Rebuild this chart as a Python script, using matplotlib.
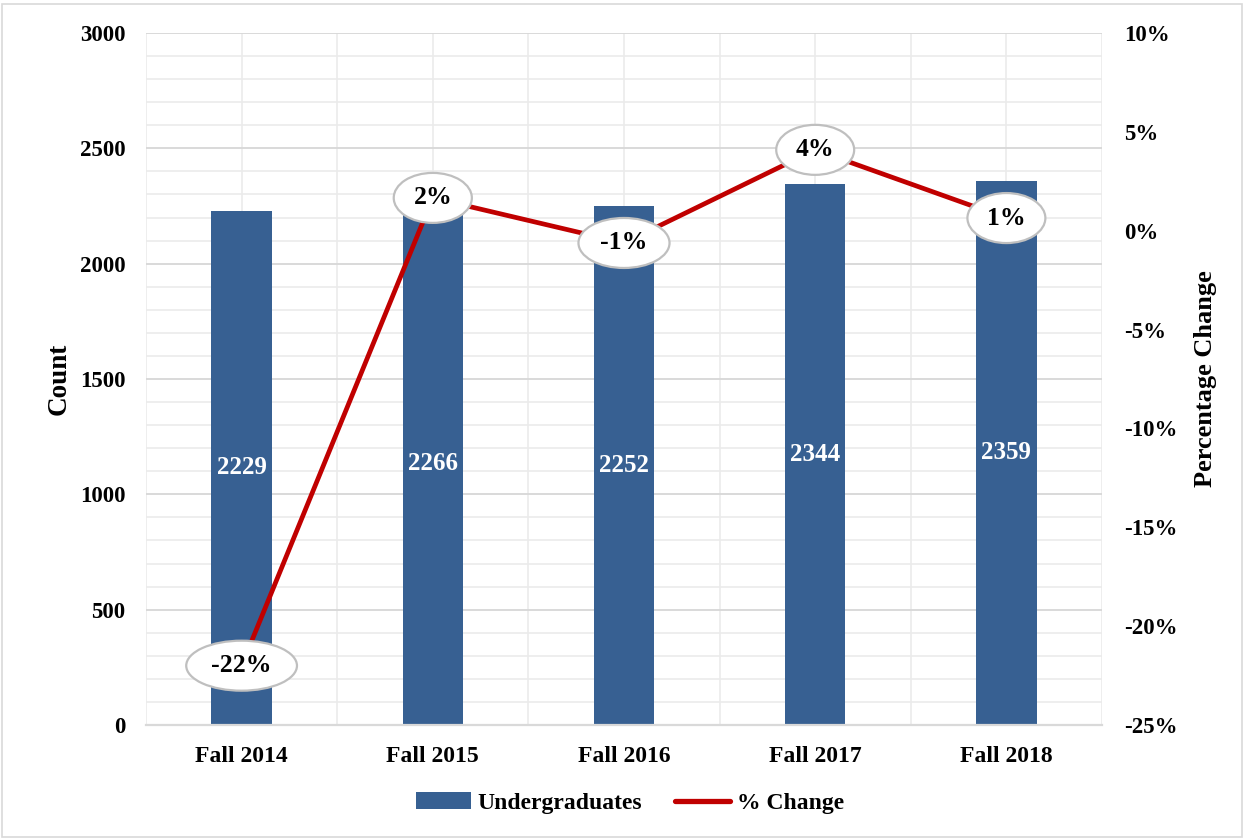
import matplotlib
matplotlib.use("Agg")
import matplotlib.pyplot as plt
from matplotlib.lines import Line2D
from matplotlib.patches import Patch, Rectangle, Ellipse
import numpy as np

categories = ["Fall 2014", "Fall 2015", "Fall 2016", "Fall 2017", "Fall 2018"]
undergrads = [2229, 2266, 2252, 2344, 2359]
pct_change = [-22.0, 1.66, -0.62, 4.09, 0.64]
pct_labels = ["-22%", "2%", "-1%", "4%", "1%"]

plt.rcParams['font.family'] = ['Liberation Serif', 'DejaVu Serif']
plt.rcParams['font.weight'] = 'bold'

W, H = 1244, 839
fig = plt.figure(figsize=(W / 100, H / 100), dpi=100)
ax_l, ax_r, ax_t, ax_b = 146, 1102, 33, 725
ax = fig.add_axes([ax_l / W, 1 - ax_b / H, (ax_r - ax_l) / W, (ax_b - ax_t) / H])
x = np.arange(len(categories))

bar_color = '#376092'
line_color = '#C00000'

ax.set_xlim(-0.5, len(categories) - 0.5)
ax.set_ylim(0, 3000)
ax.set_yticks(np.arange(0, 3001, 500))
ax.set_yticks(np.arange(0, 3001, 100), minor=True)
ax.set_xticks(x)
ax.set_xticks(np.arange(-0.5, len(categories), 1.0), minor=True)
ax.grid(True, which='minor', axis='y', color='#ebebeb', lw=1.2, zorder=0)
ax.grid(True, which='major', axis='y', color='#d9d9d9', lw=1.4, zorder=0)
ax.grid(True, which='both', axis='x', color='#ebebeb', lw=1.2, zorder=0)
ax.set_axisbelow(True)

ax.bar(x, undergrads, width=0.315, color=bar_color, zorder=2)
for xi, v in zip(x, undergrads):
    ax.text(xi, v / 2, str(v), ha='center', va='center', color='white',
            fontsize=18, fontweight='bold', zorder=3)

ax.set_xticklabels(categories, fontsize=17, fontweight='bold')
ax.tick_params(axis='both', which='both', length=0)
ax.tick_params(axis='x', pad=15)
ax.tick_params(axis='y', pad=15)
for lab in ax.get_yticklabels():
    lab.set_fontsize(16.5)
    lab.set_fontweight('bold')
for s in ['top', 'right', 'left']:
    ax.spines[s].set_visible(False)
ax.spines['bottom'].set_color('#d9d9d9')
ax.spines['bottom'].set_linewidth(1.6)
ax.set_ylabel("Count", fontsize=19.5, fontweight='bold', labelpad=6)

ax2 = ax.twinx()
ax2.set_ylim(-25, 10)
ax2.set_yticks(np.arange(-25, 11, 5))
ax2.set_yticklabels([f"{t}%" for t in range(-25, 11, 5)], fontsize=16.5, fontweight='bold')
ax2.tick_params(axis='y', length=0, pad=16)
for s in ['top', 'right', 'left', 'bottom']:
    ax2.spines[s].set_visible(False)
ax2.plot(x, pct_change, color=line_color, lw=3.4, zorder=4, solid_capstyle='round')

fig.canvas.draw()
renderer = fig.canvas.get_renderer()
px_per_x = (ax_r - ax_l) / (len(categories))
px_per_y = (ax_b - ax_t) / 35.0
for xi, v, lab in zip(x, pct_change, pct_labels):
    t = ax2.text(xi, v, lab, ha='center', va='center', fontsize=18.5, fontweight='bold',
                 zorder=6)
    tw = t.get_window_extent(renderer).width
    ew = 1.5 * tw + 20
    eh = 50
    ax2.add_patch(Ellipse((xi, v), ew / px_per_x, eh / px_per_y, fc='white',
                          ec='#bfbfbf', lw=1.6, zorder=5))
ax2.set_ylabel("Percentage Change", fontsize=19, fontweight='bold', labelpad=12)

handles = [Patch(facecolor=bar_color, edgecolor='none'),
           Line2D([0], [0], color=line_color, lw=3.8, solid_capstyle='round')]
fig.legend(handles, ["Undergraduates", "% Change"], loc='center',
           bbox_to_anchor=(630 / W, 1 - 803 / H), ncol=2, frameon=False,
           prop={'size': 17, 'weight': 'bold'}, handlelength=2.3, columnspacing=1.4,
           handletextpad=0.3)

fig.patches.append(Rectangle((0.002, 0.002), 0.996, 0.993, transform=fig.transFigure,
                             fill=False, ec='#d9d9d9', lw=1.2))

fig.savefig("out.png", dpi=100)
